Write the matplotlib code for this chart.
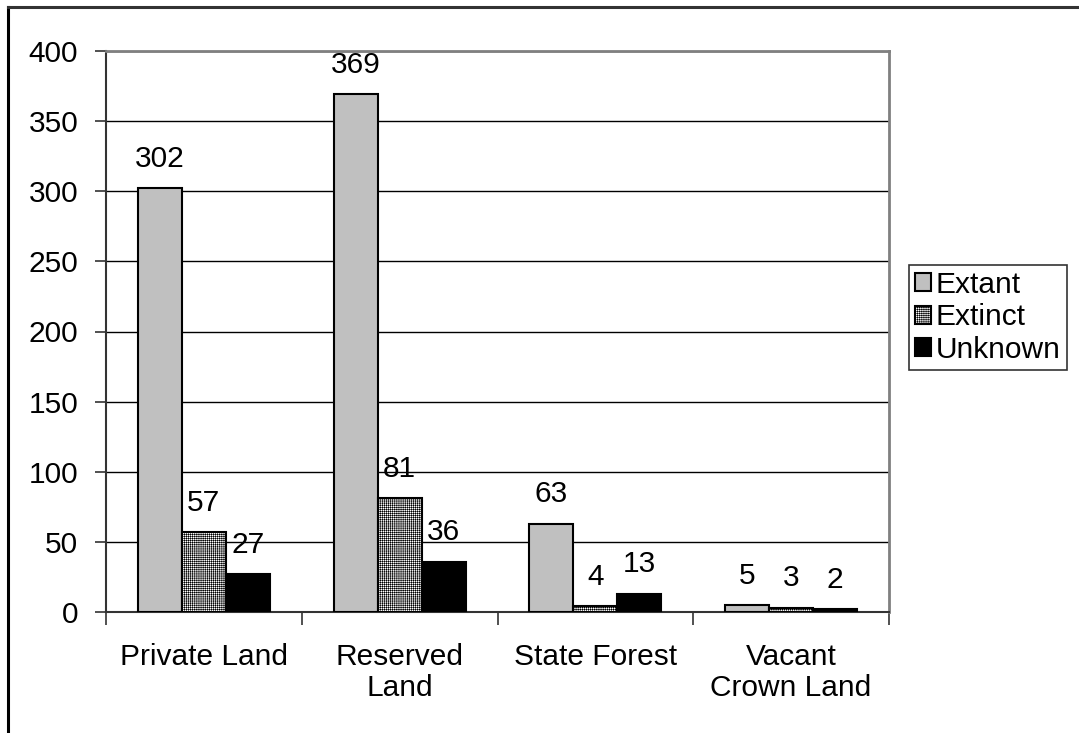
import numpy as np
import matplotlib
matplotlib.use("Agg")
import matplotlib.pyplot as plt
from matplotlib.lines import Line2D

plt.rcParams['font.family'] = ['Liberation Sans', 'DejaVu Sans']
plt.rcParams['hatch.linewidth'] = 0.4
plt.rcParams['hatch.color'] = 'black'

# tenure categories and record counts
categories = ["Private Land", "Reserved\nLand", "State Forest", "Vacant\nCrown Land"]
extant = [302, 369, 63, 5]
extinct = [57, 81, 4, 3]
unknown = [27, 36, 13, 2]

W, H = 1079, 733
fig = plt.figure(figsize=(W / 100, H / 100), dpi=100)
ax = fig.add_axes([106 / W, (H - 612) / H, (889 - 106) / W, (612 - 51) / H])

# outer chart frame (left and top edges only)
fig.add_artist(Line2D([8 / W, 8 / W], [0, (H - 7) / H], color='black', lw=2.2, transform=fig.transFigure))
fig.add_artist(Line2D([8 / W, 1], [(H - 7) / H, (H - 7) / H], color='#333333', lw=2.2, transform=fig.transFigure))

x = np.arange(len(categories))
bw = 0.225
fs = 21.5

b1 = ax.bar(x - bw, extant, bw, color='#c0c0c0', edgecolor='black', linewidth=1.5, label='Extant', zorder=3)
b2 = ax.bar(x, extinct, bw, color='white', edgecolor='black', hatch='++++++++', linewidth=1.5, label='Extinct', zorder=3)
b3 = ax.bar(x + bw, unknown, bw, color='black', edgecolor='black', linewidth=1.5, label='Unknown', zorder=3)

for bars, vals in [(b1, extant), (b2, extinct), (b3, unknown)]:
    for rect, v in zip(bars, vals):
        ax.text(rect.get_x() + rect.get_width() / 2, v + 11, str(v),
                ha='center', va='bottom', fontsize=fs)

ax.set_xlim(-0.5, len(categories) - 0.5)
ax.set_ylim(0, 400)
ax.set_yticks(np.arange(0, 401, 50))
ax.yaxis.grid(True, color='black', lw=1.0, zorder=0)
ax.set_axisbelow(True)

ax.set_xticks(x)
ax.set_xticklabels(categories, fontsize=fs, linespacing=1.15)
ax.tick_params(axis='x', which='major', length=0, pad=22)
ax.set_xticks(np.arange(-0.5, len(categories), 1), minor=True)
ax.tick_params(axis='x', which='minor', length=9, width=1.2, color='#333333', direction='out')
ax.tick_params(axis='y', labelsize=fs, length=8, width=1.2, color='#333333', pad=12)

for side in ['top', 'right']:
    ax.spines[side].set_color('#808080')
    ax.spines[side].set_linewidth(2)
ax.spines['left'].set_color('#333333')
ax.spines['bottom'].set_color('#333333')
ax.spines['left'].set_linewidth(1.5)
ax.spines['bottom'].set_linewidth(1.5)

leg = fig.legend(loc='upper left', bbox_to_anchor=(909 / W, (H - 265) / H),
                 fontsize=fs, frameon=True, fancybox=False, edgecolor='black',
                 handlelength=0.55, handleheight=0.55, handletextpad=0.15,
                 labelspacing=0.15, borderpad=0.2, borderaxespad=0)
leg.get_frame().set_linewidth(1.2)

fig.savefig('out.png', dpi=100)
